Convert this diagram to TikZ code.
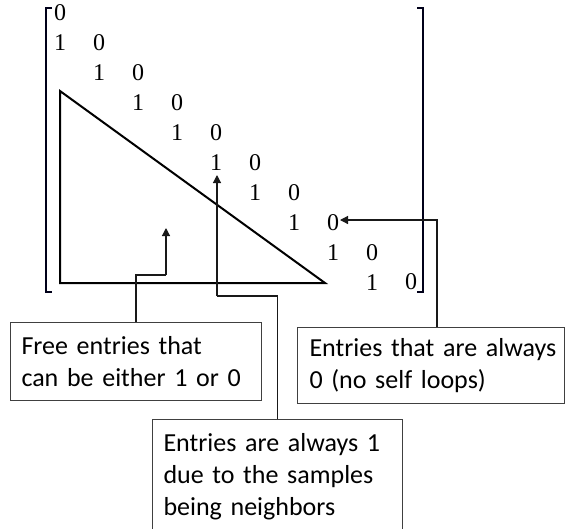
\documentclass[tikz,border=0pt]{standalone}
\usepackage{fontspec}
\setmainfont{Carlito}
\newfontfamily\digitfont{Liberation Serif}
\usetikzlibrary{arrows.meta,calc}
\begin{document}
\begin{tikzpicture}[x=1pt,y=-1pt,
  dig/.style={font=\digitfont\fontsize{24}{24}\selectfont, inner sep=0pt},
  brk/.style={line width=2pt, draw=black!90!blue},
  tri/.style={line width=2pt},
  conn/.style={line width=1.2pt, draw=black!90},
  arr/.style={conn, -{Triangle[length=8pt,width=8pt]}},
  box/.style={draw=black!75, line width=1pt, fill=white, align=left,
    font=\fontsize{26}{32}\selectfont, inner xsep=11pt, inner ysep=0pt, anchor=north west}
]
\clip (0,0) rectangle (565,528);
\fill[white] (0,0) rectangle (565,528);

% brackets
\draw[brk] (52,8) -- (46,8) -- (46,292) -- (52,292);
\draw[brk] (417,8) -- (423,8) -- (423,292) -- (417,292);

% matrix digits
\node[dig] (z1) at (60,13) {0};
\foreach \r in {2,...,10}{
  \pgfmathsetmacro{\yy}{13+29.9*(\r-1)}
  \pgfmathsetmacro{\xa}{60+39*(\r-2)}
  \pgfmathsetmacro{\xb}{60+39*(\r-1)}
  \node[dig] (o\r) at (\xa,\yy) {1};
  \node[dig] (z\r) at (\xb,\yy) {0};
}

% triangle
\coordinate (T1) at (60,91);
\coordinate (T2) at (60,283);
\coordinate (T3) at (325,283);
\draw[tri] (T1) -- (T2) -- (T3) -- cycle;

% boxes
\node[box, text width=229pt, minimum height=78pt] (b1) at (10,322)
  {\mbox{Free entries that}\\\mbox{can be either 1 or 0}};
\node[box, inner xsep=12pt, text width=243pt, minimum height=76pt] (b2) at (297,327)
  {\mbox{Entries that are always}\\\mbox{0 (no self loops)}};
\node[box, text width=228pt, minimum height=114pt] (b3) at (152,419)
  {\mbox{Entries are always 1}\\\mbox{due to the samples}\\\mbox{being neighbors}};

% connectors
\coordinate (tipF) at (166,228);
\coordinate (kF) at (166,275);
\draw[conn] (b1.north) |- (kF);
\draw[arr] (kF) -- (tipF);

\coordinate (tip1) at (217,175);
\coordinate (k1) at (217,296);
\draw[conn] (b3.north) |- (k1);
\draw[arr] (k1) -- (tip1);

\coordinate (tip0) at (340,220);
\coordinate (s0) at (437,327);
\draw[arr] (s0) |- (tip0);
\end{tikzpicture}
\end{document}
